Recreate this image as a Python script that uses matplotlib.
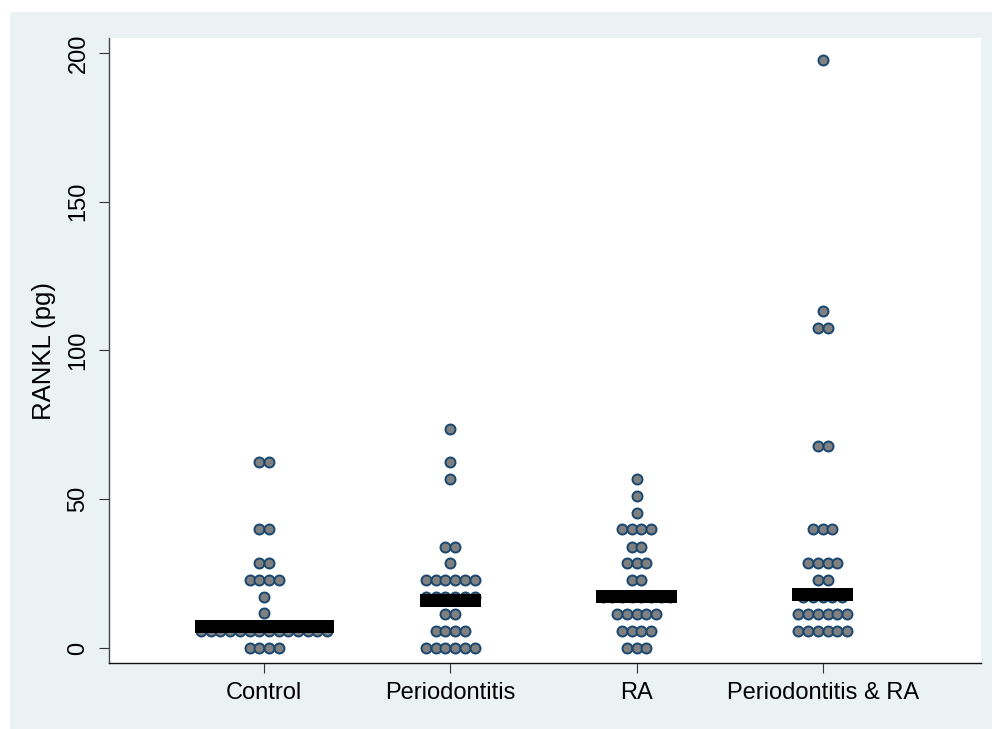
import numpy as np
import matplotlib
matplotlib.use("Agg")
from matplotlib import pyplot as plt
from matplotlib.patches import Rectangle

# data (bin level -> number of dots)
categories = ["Control", "Periodontitis", "RA", "Periodontitis & RA"]

control_vals = [0, 5.7, 11.7, 17.2, 22.9, 28.7, 39.9, 62.4]
control_counts = [4, 14, 1, 1, 4, 2, 2, 2]

perio_vals = [0, 5.7, 11.5, 17.2, 22.9, 28.6, 34.1, 56.8, 62.4, 73.6]
perio_counts = [6, 4, 2, 6, 6, 1, 2, 1, 1, 1]

ra_vals = [0, 5.8, 11.6, 17.2, 22.9, 28.5, 34.1, 39.9, 45.5, 51.1, 56.7]
ra_counts = [3, 4, 5, 8, 2, 3, 2, 4, 1, 1, 1]

pra_vals = [5.8, 11.6, 17.2, 22.9, 28.7, 39.9, 68.0, 107.5, 113.3, 197.6]
pra_counts = [6, 6, 5, 2, 4, 3, 2, 2, 1, 1]

medians = [7.4, 16.0, 17.5, 18.0]

yticks = [0, 50, 100, 150, 200]

groups = [(control_vals, control_counts), (perio_vals, perio_counts),
          (ra_vals, ra_counts), (pra_vals, pra_counts)]

plt.rcParams['font.family'] = ['Liberation Sans', 'DejaVu Sans']

W, H = 992, 729
fig = plt.figure(figsize=(W / 100, H / 100), dpi=100)
fig.patch.set_facecolor("white")
fig.add_artist(Rectangle((10 / W, 0), 1, 1 - 12 / H, transform=fig.transFigure,
                         facecolor="#EAF2F3", edgecolor="none", zorder=-10))

ax = fig.add_axes([109 / W, 1 - 663 / H, (981 - 109) / W, (663 - 38) / H])
ax.set_facecolor("white")
ax.set_xlim(0.167, 4.85)
ax.set_ylim(-5.0, 205)

# horizontal dot spacing in data units (about 9.7 px)
px_x = 186.3
sp = 9.7 / px_x
bar_h = 13 / 2.975

for i, (vals, counts) in enumerate(groups):
    xc = i + 1
    for v, n in zip(vals, counts):
        xs = xc + (np.arange(n) - (n - 1) / 2) * sp
        ax.plot(xs, [v] * n, 'o', ms=7.2, mfc="#808080", mec="#1a476f",
                mew=1.4, ls='none', zorder=3, clip_on=False)
    nmax = max(counts)
    hw = (nmax - 1) / 2 * sp + 6.5 / px_x
    ax.bar(xc, bar_h, width=2 * hw, bottom=medians[i] - bar_h / 2,
           color="black", zorder=4)

ax.set_xticks(range(1, len(categories) + 1))
ax.set_xticklabels(categories, fontsize=17)
ax.set_yticks(yticks)
ax.set_yticklabels([str(t) for t in yticks], fontsize=17, rotation=90, va="center")
ax.set_ylabel("RANKL (pg)", fontsize=18.5, labelpad=8)

for s in ["top", "right"]:
    ax.spines[s].set_visible(False)
ax.spines["left"].set_color("#444444")
ax.spines["bottom"].set_color("#111111")
for s in ["left", "bottom"]:
    ax.spines[s].set_linewidth(1.0)
ax.tick_params(axis="both", length=7, width=0.8, color="#333333", pad=7)

fig.savefig("out.png", dpi=100)
